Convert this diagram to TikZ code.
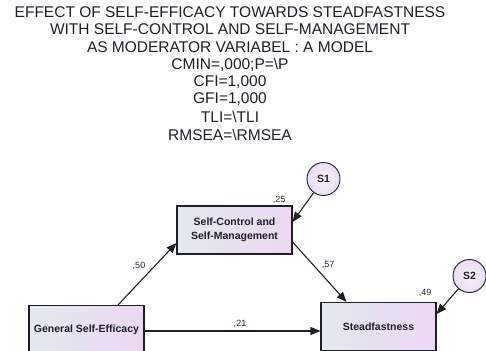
\documentclass[tikz,border=0pt]{standalone}
\usepackage{fontspec}
\setmainfont{Liberation Sans}
\usetikzlibrary{arrows.meta,calc}
\definecolor{ink}{HTML}{1E1E26}
\definecolor{numink}{HTML}{22223A}
\definecolor{boxleft}{HTML}{E2EAEF}
\definecolor{boxright}{HTML}{EDD8F3}
\definecolor{errfill}{HTML}{EADDF4}
\tikzset{
  var/.style={draw=ink, line width=1.1pt, rectangle, minimum width=115pt, minimum height=48pt,
    left color=boxleft, right color=boxright, align=center, inner sep=1pt,
    font=\fontsize{10.5}{13.5}\selectfont\bfseries, text=ink},
  err/.style={draw=ink, line width=0.9pt, circle, minimum size=33pt, inner sep=0pt,
    inner color=white!60!errfill, outer color=errfill, font=\fontsize{10.5}{12}\selectfont\bfseries, text=ink},
  path/.style={draw=ink, line width=1.1pt, -{Triangle[length=10pt,width=8pt]}},
  coef/.style={font=\fontsize{9}{10}\selectfont, text=numink, inner sep=0pt},
  ttl/.style={font=\fontsize{15.5}{17}\selectfont, text=ink, inner sep=0pt}
}
\begin{document}
\begin{tikzpicture}[x=1pt,y=-1pt]
\useasboundingbox (0,0) rectangle (486,350);
\clip (0,0) rectangle (486,350);

% title and fit statistics
\node[ttl] (t1) at (230,12) {EFFECT OF SELF-EFFICACY TOWARDS STEADFASTNESS};
\node[ttl] (t2) at (230,29.5) {WITH SELF-CONTROL AND SELF-MANAGEMENT};
\node[ttl] (t3) at (230,47) {AS MODERATOR VARIABEL : A MODEL};
\node[ttl] (t4) at (230,64.5) {CMIN=,000;P=\textbackslash P};
\node[ttl] (t5) at (230,82) {CFI=1,000};
\node[ttl] (t6) at (230,99.5) {GFI=1,000};
\node[ttl] (t7) at (230,117) {TLI=\textbackslash TLI};
\node[ttl] (t8) at (230,134.5) {RMSEA=\textbackslash RMSEA};

% observed variables
\node[var] (sc) at (234.5,230) {Self-Control and\\Self-Management};
\node[var] (gse) at (86.5,329.5) {General Self-Efficacy};
\node[var] (sf) at (378.5,326.5) {Steadfastness};

% error terms
\node[err] (s1) at (323.5,179) {S1};
\node[err] (s2) at (469.5,276) {S2};

% paths
\draw[path] ([xshift=31.5pt]gse.north) -- ([yshift=-13pt]sc.west);
\draw[path] ([yshift=-12pt]sc.east) -- ([xshift=-32pt]sf.north);
\draw[path] (gse.east |- 0,331) -- (sf.west |- 0,331);
\draw[path] (s1) -- ([yshift=8pt]sc.east);
\draw[path] (s2) -- ([yshift=12.5pt]sf.east);

% estimates
\node[coef] (r2sc) at (279,199.5) {,25};
\node[coef] (r2sf) at (425,293) {,49};
\node[coef] (b1) at (139,266) {,50};
\node[coef] (b2) at (328,265) {,57};
\node[coef] (b3) at (240,324) {,21};
\end{tikzpicture}
\end{document}
